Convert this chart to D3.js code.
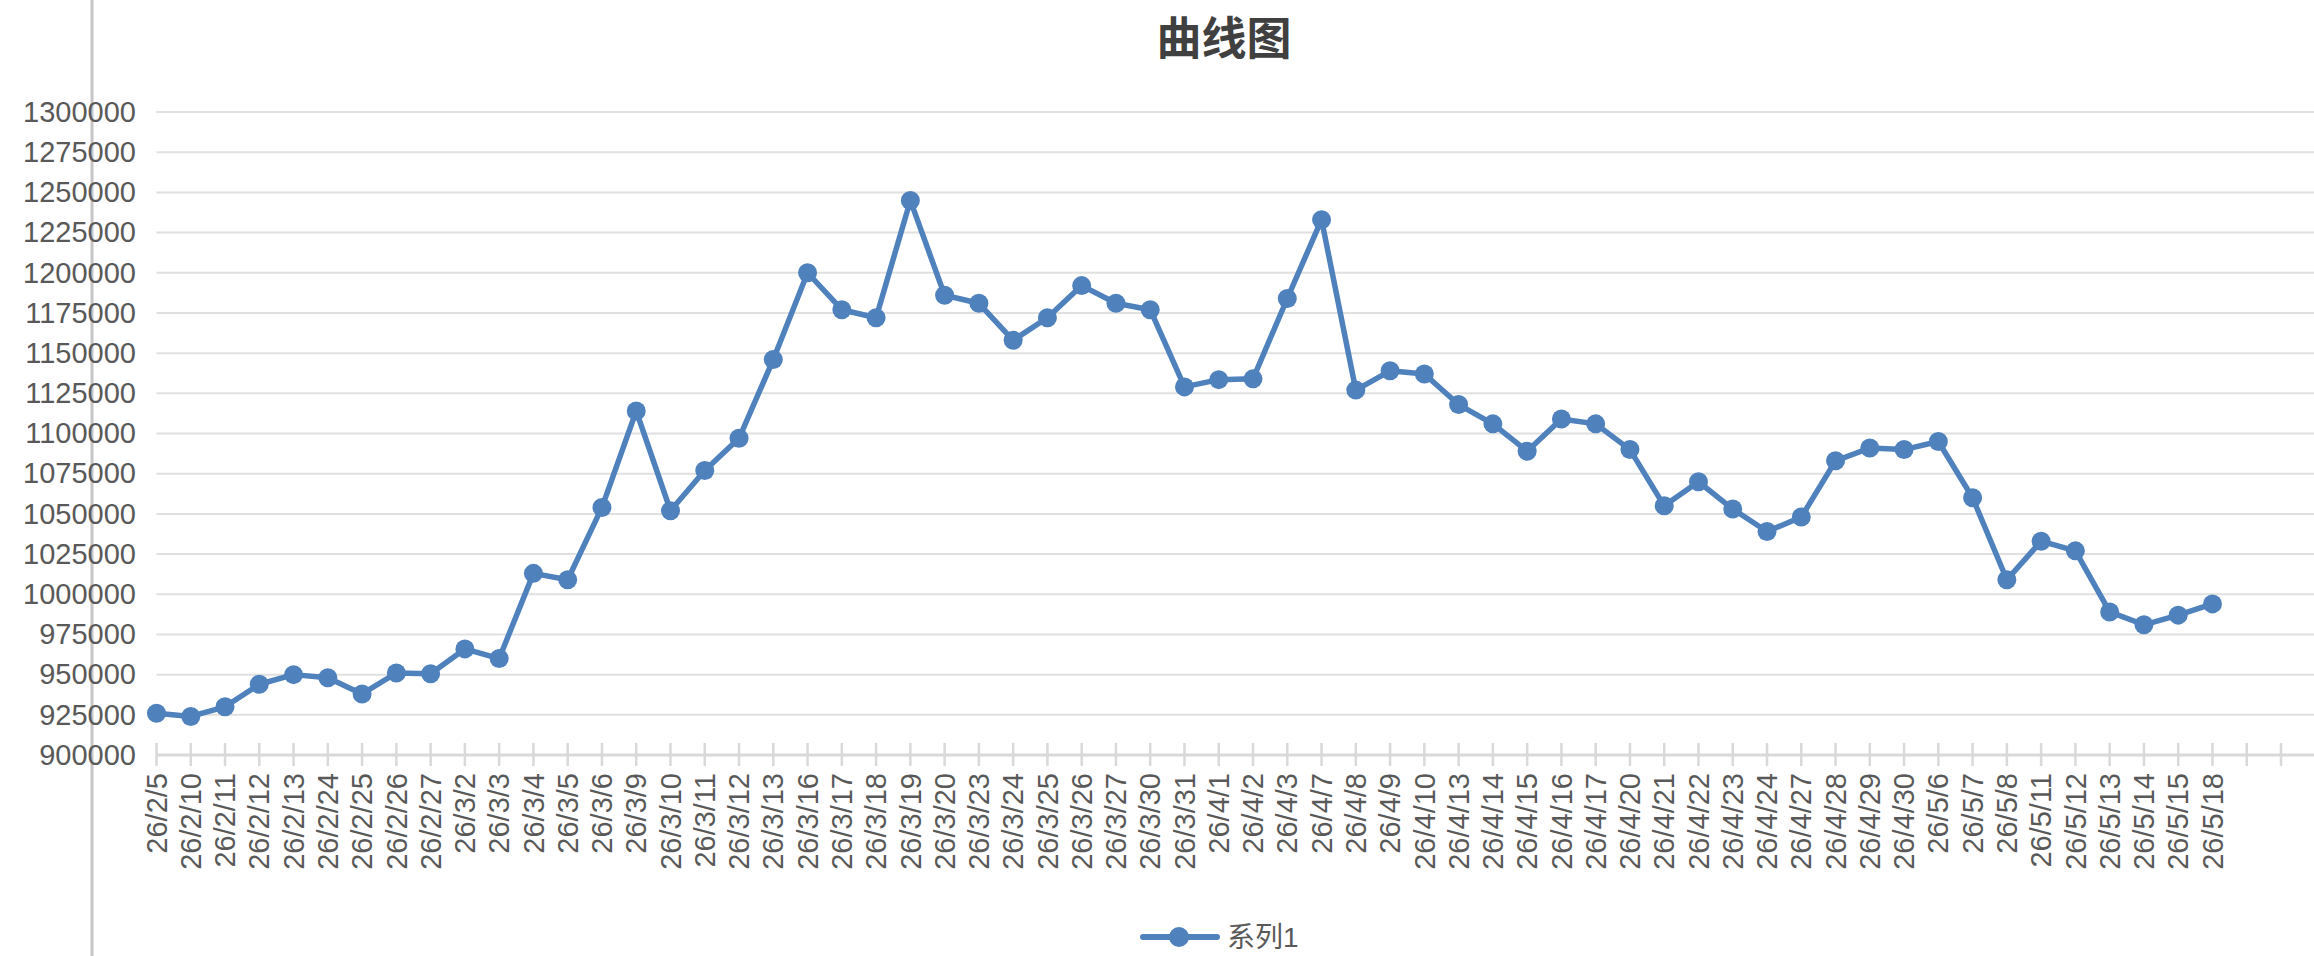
<!DOCTYPE html>
<html>
<head>
<meta charset="utf-8">
<script src="https://d3js.org/d3.v7.min.js"></script>
<style>
  * { margin: 0; padding: 0; box-sizing: border-box; }
  html, body { width: 2314px; height: 956px; overflow: hidden; background: #fff; }
  body { font-family: 'Liberation Sans', Arial, sans-serif; }
</style>
</head>
<body>
<div id="chart"></div>
<script>
// category labels (two empty slots at the end of the axis)
const categories = [
  '26/2/5', '26/2/10', '26/2/11', '26/2/12', '26/2/13', '26/2/24', '26/2/25', '26/2/26', '26/2/27',
  '26/3/2', '26/3/3', '26/3/4', '26/3/5', '26/3/6', '26/3/9', '26/3/10', '26/3/11', '26/3/12', '26/3/13',
  '26/3/16', '26/3/17', '26/3/18', '26/3/19', '26/3/20', '26/3/23', '26/3/24', '26/3/25', '26/3/26',
  '26/3/27', '26/3/30', '26/3/31', '26/4/1', '26/4/2', '26/4/3', '26/4/7', '26/4/8', '26/4/9', '26/4/10',
  '26/4/13', '26/4/14', '26/4/15', '26/4/16', '26/4/17', '26/4/20', '26/4/21', '26/4/22', '26/4/23',
  '26/4/24', '26/4/27', '26/4/28', '26/4/29', '26/4/30', '26/5/6', '26/5/7', '26/5/8', '26/5/11',
  '26/5/12', '26/5/13', '26/5/14', '26/5/15', '26/5/18', '', ' '
];

// 系列1
const series1 = [
  926000, 924000, 930000, 944000, 950000, 948000, 938000, 951000, 950500,
  966000, 960000, 1013000, 1009000, 1054000, 1114000, 1052000, 1077000, 1097000, 1146000,
  1200000, 1177000, 1172000, 1245000, 1186000, 1181000, 1158000, 1172000, 1192000,
  1181000, 1177000, 1129000, 1133500, 1134000, 1184000, 1233000, 1127000, 1139000, 1137000,
  1118000, 1106000, 1089000, 1109000, 1106000, 1090000, 1055000, 1070000, 1053000,
  1039000, 1048000, 1083000, 1091000, 1090000, 1095000, 1060000, 1009000, 1033000,
  1027000, 989000, 981000, 987000, 994000
];

const seriesName = '系列1';
const title = '曲线图';
const yTicks = d3.range(900000, 1300001, 25000);

const width = 2314, height = 956;
const plotLeft = 156.5, plotRight = 2281, plotTop = 112, plotBottom = 755;
const blue = '#4f81bd';
const labelColor = '#595959';
const gridColor = '#e0e0e0';

const svg = d3.select('#chart').append('svg')
  .attr('width', width).attr('height', height);

// stray window border line on the left
svg.append('line')
  .attr('x1', 92).attr('x2', 92).attr('y1', 0).attr('y2', height)
  .attr('stroke', '#c6c6c6').attr('stroke-width', 3);

const x = d3.scalePoint().domain(categories).range([plotLeft, plotRight]);
const y = d3.scaleLinear().domain([900000, 1300000]).range([plotBottom, plotTop]);

// title
svg.append('text')
  .attr('x', 1224).attr('y', 35)
  .attr('text-anchor', 'middle')
  .attr('dominant-baseline', 'central')
  .attr('font-family', "'Noto Sans CJK SC', sans-serif")
  .attr('font-weight', 'bold')
  .attr('font-size', 45)
  .attr('fill', '#404040')
  .text(title);

// horizontal gridlines
svg.append('g').selectAll('line')
  .data(yTicks.filter(d => d > 900000))
  .join('line')
  .attr('x1', plotLeft).attr('x2', width)
  .attr('y1', d => y(d)).attr('y2', d => y(d))
  .attr('stroke', gridColor).attr('stroke-width', 2);

// y axis labels
const yAxis = d3.axisLeft(y).tickValues(yTicks).tickSize(0).tickPadding(0).tickFormat(d3.format('d'));
svg.append('g')
  .attr('transform', 'translate(136,0)')
  .call(yAxis)
  .call(g => g.select('.domain').remove())
  .selectAll('text')
  .attr('font-family', "'Liberation Sans', Arial, sans-serif")
  .attr('font-size', 29)
  .attr('fill', labelColor);

// x axis with crossing ticks
svg.append('line')
  .attr('x1', plotLeft).attr('x2', width)
  .attr('y1', plotBottom).attr('y2', plotBottom)
  .attr('stroke', '#d9d9d9').attr('stroke-width', 3);

svg.append('g').selectAll('line')
  .data(categories)
  .join('line')
  .attr('x1', d => x(d)).attr('x2', d => x(d))
  .attr('y1', plotBottom - 12).attr('y2', plotBottom + 11)
  .attr('stroke', '#d9d9d9').attr('stroke-width', 2.5);

svg.append('g').selectAll('text')
  .data(categories)
  .join('text')
  .attr('transform', d => `translate(${x(d)},773) rotate(-90)`)
  .attr('dy', '0.35em')
  .attr('text-anchor', 'end')
  .attr('font-size', 29)
  .attr('fill', labelColor)
  .text(d => d.trim());

// the series line
const points = series1.map((v, i) => ({ cat: categories[i], value: v }));

const line = d3.line()
  .x(d => x(d.cat))
  .y(d => y(d.value));

svg.append('path')
  .datum(points)
  .attr('d', line)
  .attr('fill', 'none')
  .attr('stroke', blue)
  .attr('stroke-width', 5.5)
  .attr('stroke-linejoin', 'round');

svg.append('g').selectAll('circle')
  .data(points)
  .join('circle')
  .attr('cx', d => x(d.cat))
  .attr('cy', d => y(d.value))
  .attr('r', 9.5)
  .attr('fill', blue);

// legend
const legend = svg.append('g').attr('transform', 'translate(1143,937)');
legend.append('line')
  .attr('x1', 0).attr('x2', 74).attr('y1', 0).attr('y2', 0)
  .attr('stroke', blue).attr('stroke-width', 6).attr('stroke-linecap', 'round');
legend.append('circle')
  .attr('cx', 36).attr('cy', 0).attr('r', 10).attr('fill', blue);
legend.append('text')
  .attr('x', 84).attr('y', 10)
  .attr('font-family', "'Liberation Sans', 'Noto Sans CJK SC', sans-serif")
  .attr('font-size', 28)
  .attr('fill', labelColor)
  .text(seriesName);
</script>
</body>
</html>
